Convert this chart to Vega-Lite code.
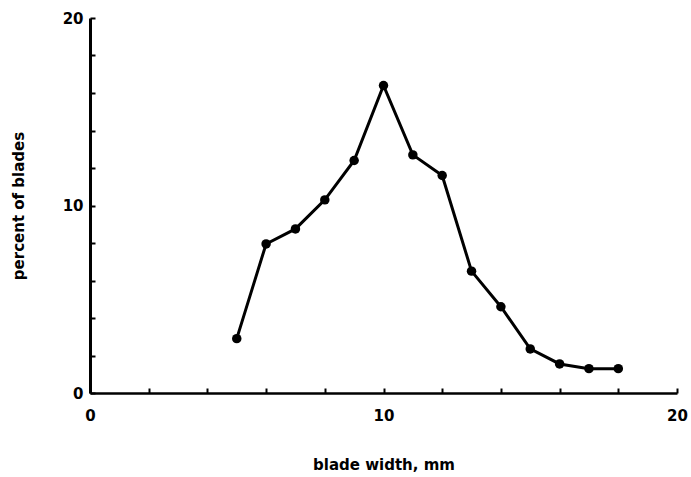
{
  "$schema": "https://vega.github.io/schema/vega-lite/v6.json",
  "autosize": "none",
  "width": 587,
  "height": 375,
  "padding": {"left": 90, "top": 18, "right": 14, "bottom": 84},
  "background": "white",
  "config": {"view": {"stroke": null}},
  "data": {"values": [
    {"width": 5, "percent": 2.9},
    {"width": 6, "percent": 7.95},
    {"width": 7, "percent": 8.75},
    {"width": 8, "percent": 10.3},
    {"width": 9, "percent": 12.4},
    {"width": 10, "percent": 16.4},
    {"width": 11, "percent": 12.7},
    {"width": 12, "percent": 11.6},
    {"width": 13, "percent": 6.5},
    {"width": 14, "percent": 4.6},
    {"width": 15, "percent": 2.35},
    {"width": 16, "percent": 1.55},
    {"width": 17, "percent": 1.3},
    {"width": 18, "percent": 1.3}
  ]},
  "encoding": {
    "x": {"field": "width", "type": "quantitative",
      "scale": {"domain": [0, 20], "nice": false},
      "axis": {"values": [0,2,4,6,8,10,12,14,16,18,20], "labelExpr": "datum.value % 10 === 0 ? datum.label : ''",
        "title": "blade width, mm", "grid": false, "tickSize": -5, "tickWidth": 2, "tickColor": "black",
        "domainColor": "black", "domainWidth": 2.5, "labelFont": "DejaVu Sans", "labelFontWeight": "bold",
        "labelFontSize": 15, "labelColor": "black", "labelPadding": 20, "titleFont": "DejaVu Sans", "titleFontWeight": "bold",
        "titleFontSize": 15, "titleColor": "black", "titlePadding": 34, "labelFlush": false}},
    "y": {"field": "percent", "type": "quantitative",
      "scale": {"domain": [0, 20], "nice": false},
      "axis": {"values": [0,2,4,6,8,10,12,14,16,18,20], "labelExpr": "datum.value % 10 === 0 ? datum.label : ''",
        "title": "percent of blades", "grid": false, "tickSize": -5, "tickWidth": 2, "tickColor": "black",
        "domainColor": "black", "domainWidth": 3, "labelFont": "DejaVu Sans", "labelFontWeight": "bold",
        "labelFontSize": 15, "labelColor": "black", "labelPadding": 12, "titleFont": "DejaVu Sans", "titleFontWeight": "bold",
        "titleFontSize": 15, "titleColor": "black", "titlePadding": 36, "labelFlush": false}}
  },
  "layer": [
    {"mark": {"type": "line", "color": "black", "strokeWidth": 3}},
    {"mark": {"type": "point", "filled": true, "color": "black", "opacity": 1, "size": 90}}
  ]
}
